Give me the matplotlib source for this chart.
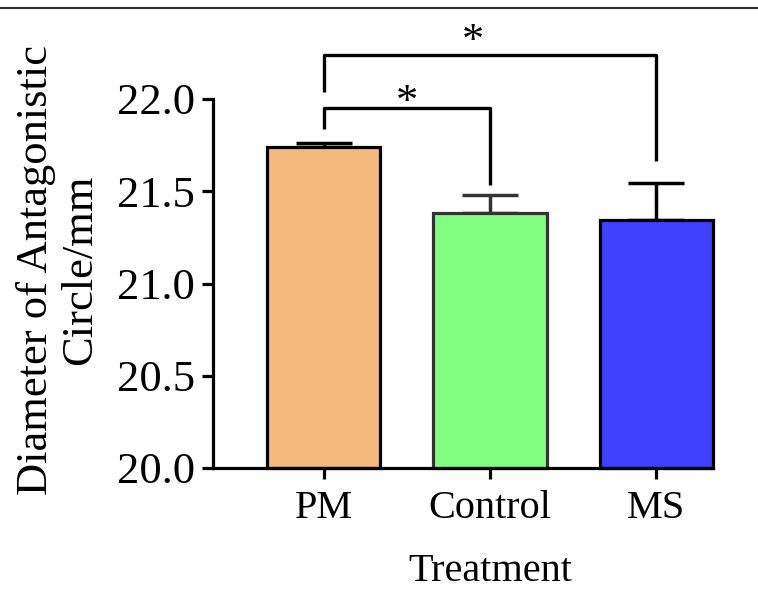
import matplotlib
matplotlib.use("Agg")
import matplotlib.pyplot as plt
from matplotlib.lines import Line2D

plt.rcParams['font.family'] = ['Liberation Serif', 'DejaVu Serif']

groups = ["PM", "Control", "MS"]
means = [21.74, 21.38, 21.345]
errors = [0.02, 0.10, 0.20]
bar_colors = ["#F2B87C", "#80FF80", "#4040FF"]
edge_colors = ["#000000", "#333333", "#000000"]

# significance brackets: (left group, right group, bar height, left leg end, right leg end)
brackets = [
    (0, 1, 21.95, 21.84, 21.535),
    (0, 2, 22.24, 22.04, 21.665),
]
star_pos = [(0.5, 21.98), (0.90, 22.31)]

W, H = 758, 591
fig = plt.figure(figsize=(W / 100, H / 100), dpi=100)

# axes placed in pixel terms of the reference
ax_left, ax_right, ax_bottom, ax_top = 213, 713, 468, 20
px_per_unit = (468 - 99) / 2.0
ax = fig.add_axes([ax_left / W, 1 - ax_bottom / H,
                   (ax_right - ax_left) / W, (ax_bottom - ax_top) / H])

x = list(range(len(groups)))
ax.bar(x, [m - 20 for m in means], bottom=20, width=0.68,
       color=bar_colors, edgecolor=edge_colors, linewidth=2.3, zorder=2,
       clip_on=False)
for xi, m, e, ec in zip(x, means, errors, edge_colors):
    ax.errorbar(xi, m, yerr=[[0], [e]], fmt='none', ecolor=ec,
                elinewidth=2.5, capsize=20, capthick=2.5, zorder=1)

for g1, g2, yb, y1, y2 in brackets:
    ax.plot([g1, g1, g2, g2], [y1, yb, yb, y2], color='black',
            lw=2.4, solid_capstyle='butt', clip_on=False)
for sx, sy in star_pos:
    ax.text(sx, sy, "*", ha='center', va='center', fontsize=32)

ax.set_xlim(-0.664, 2.34)
ax.set_ylim(20, 20 + (ax_bottom - ax_top) / px_per_unit)
ax.set_yticks([20.0, 20.5, 21.0, 21.5, 22.0])
ax.set_yticklabels(["20.0", "20.5", "21.0", "21.5", "22.0"], fontsize=32)
ax.set_xticks(x)
ax.set_xticklabels(groups, fontsize=29)

for s in ['top', 'right']:
    ax.spines[s].set_visible(False)
ax.spines['left'].set_bounds(20, 22)
ax.spines['left'].set_linewidth(2.3)
ax.spines['bottom'].set_linewidth(2.3)
ax.tick_params(axis='both', width=2.3, length=8, pad=5, color='black')
ax.tick_params(axis='x', pad=8)

ax.set_xlabel("Treatment", fontsize=29)
ax.xaxis.set_label_coords((1 + 0.664) / (2.34 + 0.664), -0.19)

fig.text(58 / W, 1 - 270 / H, "Diameter of Antagonistic\nCircle/mm",
         rotation=90, ha='center', va='center', multialignment='center',
         fontsize=32, linespacing=1.15)

# thin rule at the top of the image
fig.add_artist(Line2D([0, 1], [1 - 8 / H, 1 - 8 / H], color='#333333', lw=1.5))

fig.savefig("out.png", dpi=100)
